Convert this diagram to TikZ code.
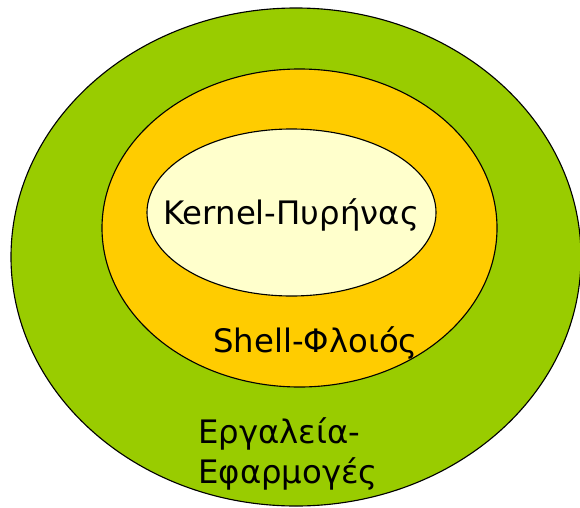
\documentclass[tikz,border=0pt]{standalone}
\usepackage{fontspec}
\setmainfont{DejaVu Sans}
\usepackage{xcolor}
\definecolor{toolgreen}{HTML}{99cc00}
\definecolor{shellorange}{HTML}{ffcc00}
\definecolor{kernelcream}{HTML}{ffffcc}

\tikzset{
  layer/.style={draw=black, line width=0.8pt},
  layertext/.style={anchor=base west, inner sep=0pt, align=left,
    font=\fontsize{23}{28.4}\selectfont}
}

\begin{document}
\begin{tikzpicture}

  % bounding box
  \useasboundingbox (0,0) rectangle (14.5,-12.675);

  % outer layer
  \filldraw[layer, fill=toolgreen] (7.4,-6.425) ellipse (7.125 and 6.225);

  % middle layer
  \filldraw[layer, fill=shellorange] (7.4875,-5.7) ellipse (4.9375 and 3.975);

  % inner layer
  \filldraw[layer, fill=kernelcream] (7.2875,-5.3125) ellipse (3.6125 and 2.0875);

  % labels
  \node [layertext] (kernel) at (4.075,-5.6) {Kernel-Πυρήνας};
  \node [layertext] (shell) at (5.325,-8.8) {Shell-Φλοιός};
  \node [layertext] (tools) at (4.95,-12.075) {Εργαλεία-\\Εφαρμογές};

\end{tikzpicture}
\end{document}
